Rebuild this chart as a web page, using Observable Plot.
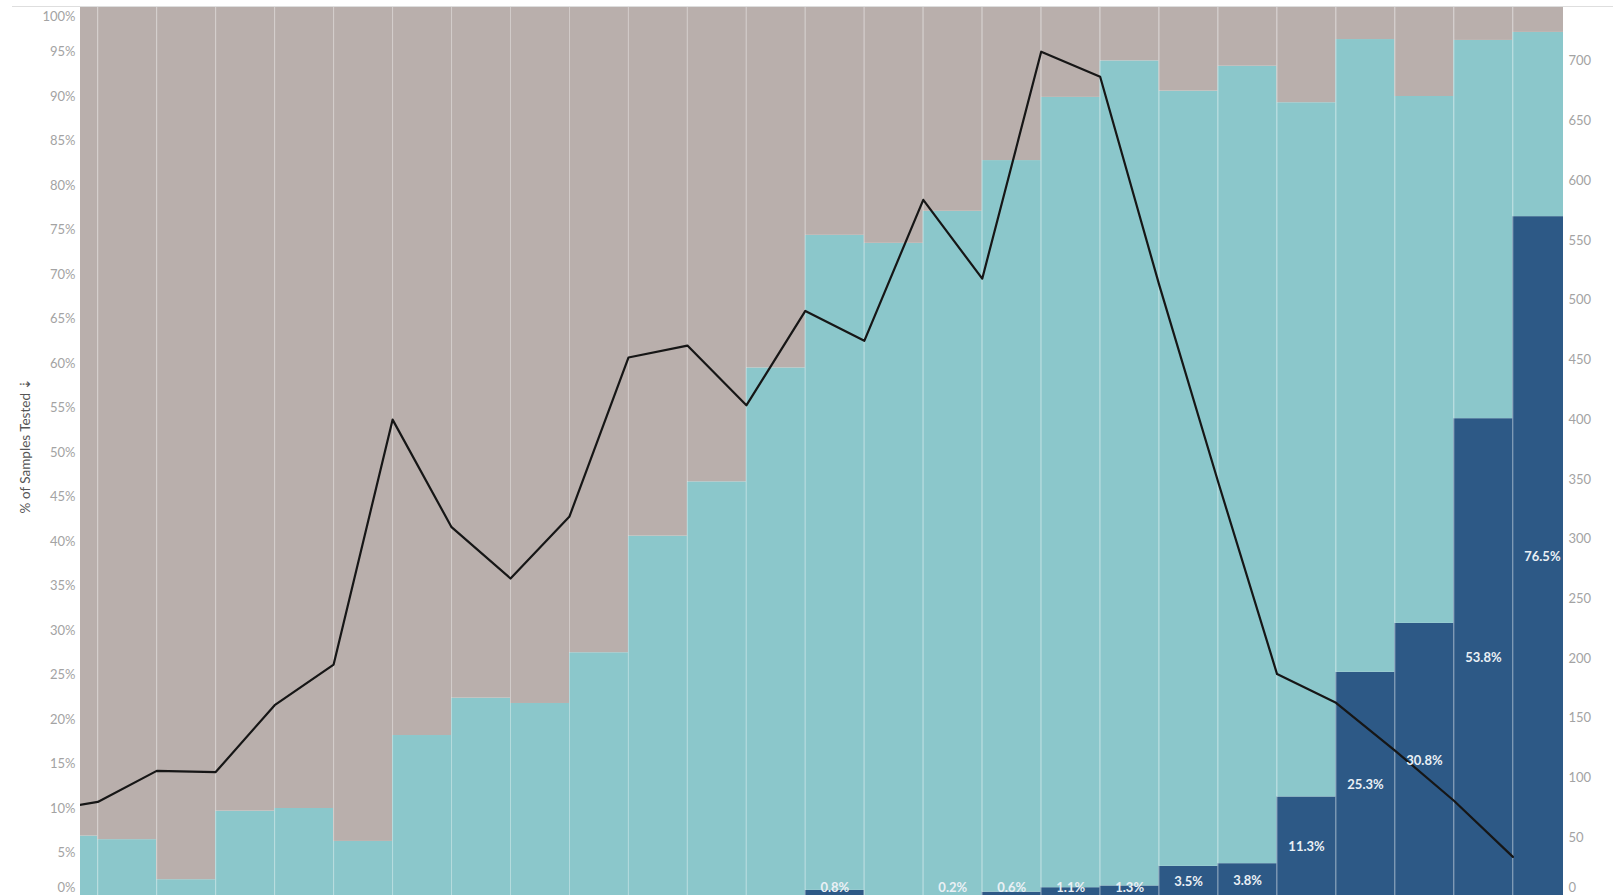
<!DOCTYPE html>
<html>
<head>
<meta charset="utf-8">
<script src="https://cdn.jsdelivr.net/npm/d3@7"></script>
<script src="https://cdn.jsdelivr.net/npm/@observablehq/plot@0.6"></script>
<style>
  html, body { margin: 0; padding: 0; background: #fff; overflow: hidden; }
  #wrap { position: relative; width: 1613px; height: 895px; }
  #topline { position: absolute; top: 6px; left: 12px; right: 0; height: 1px; background: #dedede; z-index: 2; }
</style>
</head>
<body>
<div id="wrap"><div id="topline"></div></div>
<script>
// Periods (bar index; first and last bars are partly cropped in the original view)
const periods = [0,1,2,3,4,5,6,7,8,9,10,11,12,13,14,15,16,17,18,19,20,21,22,23,24,25];

// % of samples in the dark-blue segment (labelled)
const darkPct = [0,0,0,0,0,0,0,0,0,0,0,0,0,0.8,0,0.2,0.6,1.1,1.3,3.5,3.8,11.3,25.3,30.8,53.8,76.5];

// % of samples in the teal segment
const tealPct = [6.9,6.5,2.0,9.7,10.0,6.3,18.2,22.4,21.8,27.5,40.6,46.7,59.5,73.6,73.5,76.9,82.2,88.8,92.7,87.1,89.6,78.0,71.1,59.2,42.5,20.7];

// Sample counts (line, right axis)
const sampleCount = [72,80,106,105,161,195,400,310,267,319,452,462,412,491,466,584,518,708,687,513,348,187,163,123,81,34];

// Axis ticks
const pctTicks = [5,10,15,20,25,30,35,40,45,50,55,60,65,70,75,80,85,90,95];
const countTicks = [50,100,150,200,250,300,350,400,450,500,550,600,650,700];
const COUNT_MAX = 745;

const segColors = {dark: "#2d5986", teal: "#8bc7cb", grey: "#b9afac"};

// Build stacked table
const stacked = [];
periods.forEach((p, i) => {
  const d = darkPct[i], t = tealPct[i];
  stacked.push({p, seg: "dark", y1: 0, y2: d});
  stacked.push({p, seg: "teal", y1: d, y2: d + t});
  stacked.push({p, seg: "grey", y1: d + t, y2: 100});
});
const lineData = periods.map((p, i) => ({p, count: sampleCount[i]}));
const labelData = periods.map((p, i) => ({p, v: darkPct[i]})).filter(d => d.v > 0);
const k = 100 / COUNT_MAX;

const tickColor = "#a3a3a3";
const axisCommon = {tickSize: 0, tickPadding: 5, label: null, color: tickColor};

const chart = Plot.plot({
  width: 1613,
  height: 895,
  marginLeft: 80,
  marginRight: 50,
  marginTop: 7,
  marginBottom: 0,
  x: {type: "linear", domain: [0.707, 25.858], axis: null},
  y: {domain: [0, 100], range: [897, 7], axis: null},
  color: {domain: ["dark", "teal", "grey"], range: [segColors.dark, segColors.teal, segColors.grey]},
  style: {fontFamily: "Lato, 'Open Sans', sans-serif", fontSize: "13px", background: "#fff", overflow: "visible"},
  marks: [
    Plot.rect(stacked, {x1: "p", x2: d => d.p + 1, y1: "y1", y2: "y2", fill: "seg", clip: true}),
    Plot.ruleX(periods.slice(1), {x: d => d, y1: 0, y2: 100, stroke: "#ffffff", strokeOpacity: 0.35, strokeWidth: 1}),
    Plot.line(lineData, {x: "p", y: d => d.count * k, stroke: "#161616", strokeWidth: 2.2, clip: true}),
    Plot.text(labelData, {
      x: d => d.p + 0.5,
      y: d => Math.max(d.v / 2, 1.1),
      text: d => d.v.toFixed(1) + "%",
      fill: "#eaf0f5",
      fontWeight: "bold",
      fontSize: 13,
      clip: true
    }),
    // left axis
    Plot.axisY(pctTicks, {...axisCommon, anchor: "left", tickFormat: d => d + "%"}),
    Plot.axisY([0], {...axisCommon, anchor: "left", tickFormat: d => d + "%", dy: -10}),
    Plot.axisY([100], {...axisCommon, anchor: "left", tickFormat: d => d + "%", dy: 9}),
    // right axis (sample counts mapped onto the shared vertical scale)
    Plot.axisY(countTicks.map(c => c * k), {...axisCommon, anchor: "right", tickFormat: d => String(Math.round(d / k))}),
    Plot.axisY([0], {...axisCommon, anchor: "right", tickFormat: () => "0", dy: -10}),
    // axis titles
    Plot.text(["% of Samples Tested \u21E3"], {frameAnchor: "left", textAnchor: "middle", rotate: -90, dx: -55, dy: -6, fill: "#555", fontSize: 13.5}),
    Plot.text(["Count of Samples"], {frameAnchor: "right", textAnchor: "middle", rotate: -90, dx: 56, fill: "#777", fontSize: 13})
  ]
});

document.getElementById("wrap").appendChild(chart);
</script>
</body>
</html>
